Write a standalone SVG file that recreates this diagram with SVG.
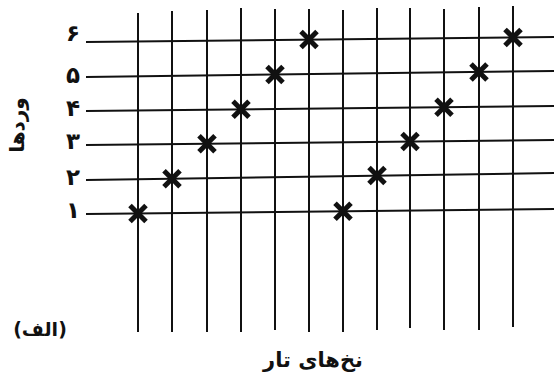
<svg xmlns="http://www.w3.org/2000/svg" width="554" height="381" viewBox="0 0 554 381">
<defs>
<style>
.g{stroke:#111;stroke-width:2;fill:none}
.t{font-family:"DejaVu Sans","Noto Sans",sans-serif;font-weight:bold;fill:#111;text-anchor:middle}
.d{font-size:23px}
.x{stroke:#111;stroke-width:5;stroke-linecap:butt;fill:none}
</style>
<g id="mk"><path class="x" d="M-8,-8L8,8M8,-8L-8,8"/><circle r="4" fill="#111"/></g>
</defs>
<rect width="554" height="381" fill="#fff"/>
<g id="connectors">
<line class="g" x1="138" y1="13" x2="138" y2="332"/>
<line class="g" x1="172" y1="11" x2="172" y2="332"/>
<line class="g" x1="207" y1="10" x2="207" y2="332"/>
<line class="g" x1="241" y1="8" x2="241" y2="332"/>
<line class="g" x1="275" y1="9" x2="275" y2="330"/>
<line class="g" x1="309" y1="9" x2="309" y2="332"/>
<line class="g" x1="343" y1="10" x2="343" y2="332"/>
<line class="g" x1="377" y1="8" x2="377" y2="330"/>
<line class="g" x1="410" y1="8" x2="410" y2="328"/>
<line class="g" x1="444" y1="9" x2="444" y2="330"/>
<line class="g" x1="479" y1="7" x2="479" y2="330"/>
<line class="g" x1="513" y1="6" x2="513" y2="327"/>
<line class="g" x1="86" y1="42" x2="554" y2="37"/>
<line class="g" x1="86" y1="77" x2="554" y2="71"/>
<line class="g" x1="86" y1="111" x2="554" y2="106"/>
<line class="g" x1="86" y1="145" x2="554" y2="140"/>
<line class="g" x1="86" y1="180" x2="554" y2="173"/>
<line class="g" x1="86" y1="214" x2="554" y2="209"/>
</g>
<g id="marks">
<use href="#mk" x="138" y="213.4"/>
<use href="#mk" x="172" y="178.7"/>
<use href="#mk" x="207" y="143.7"/>
<use href="#mk" x="241" y="109.3"/>
<use href="#mk" x="275" y="74.6"/>
<use href="#mk" x="309" y="39.6"/>
<use href="#mk" x="343" y="211.3"/>
<use href="#mk" x="377" y="175.6"/>
<use href="#mk" x="410" y="141.5"/>
<use href="#mk" x="444" y="107.2"/>
<use href="#mk" x="479" y="72"/>
<use href="#mk" x="513" y="37.4"/>
</g>
<g id="row-labels">
<text class="t d" x="73" y="41">۶</text>
<text class="t d" x="73" y="83">۵</text>
<text class="t d" x="73" y="116">۴</text>
<text class="t d" x="73" y="149">۳</text>
<text class="t d" x="73" y="185">۲</text>
<text class="t d" x="73" y="218">۱</text>
</g>
<g id="axis-y"><text class="t" font-size="20" transform="translate(24,125) rotate(-90)">وردها</text></g>
<g id="caption"><text class="t" font-size="19" x="40" y="336">(الف)</text></g>
<g id="axis-x"><text class="t" font-size="21" x="313" y="367">نخ‌های تار</text></g>
</svg>
